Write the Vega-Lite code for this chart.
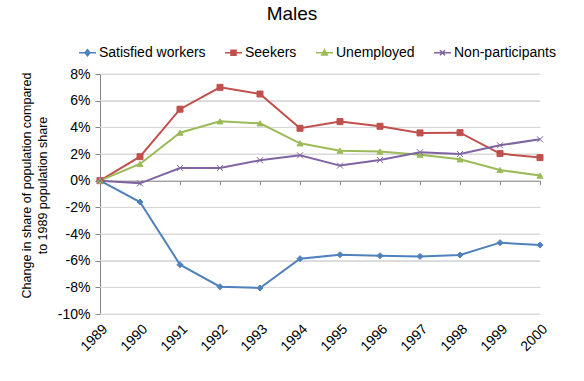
{
  "$schema": "https://vega.github.io/schema/vega-lite/v6.json",
  "width": 440,
  "height": 240,
  "autosize": "none",
  "padding": {"left": 100, "top": 74, "right": 44, "bottom": 67},
  "background": "white",
  "config": {
    "font": "Liberation Sans",
    "view": {"stroke": null},
    "axis": {"labelFont": "Liberation Sans", "labelColor": "#000000", "titleColor": "#000000", "titleFont": "Liberation Sans", "labelOverlap": false, "labelFlush": false, "labelBound": false},
    "axisX": {"grid": false, "domain": true, "ticks": true, "tickSize": 4, "tickColor": "#868686", "domainColor": "#868686", "labelAngle": -45, "labelFontSize": 14, "labelPadding": 137, "offset": -133.33},
    "axisY": {"grid": true, "gridColor": "#D9D9D9", "gridWidth": 1, "gridOpacity": 1, "domain": true, "ticks": true, "tickSize": 5, "tickColor": "#868686", "domainColor": "#868686", "labelFontSize": 14, "labelPadding": 5}
  },
  "title": {"text": "Males", "fontSize": 19, "fontWeight": "normal", "font": "Liberation Sans", "color": "#000000", "dx": -28, "offset": 19},
  "data": {
    "values": [
      {"year": 1989, "series": "Satisfied workers", "value": 0},
      {"year": 1990, "series": "Satisfied workers", "value": -1.6},
      {"year": 1991, "series": "Satisfied workers", "value": -6.3},
      {"year": 1992, "series": "Satisfied workers", "value": -7.95},
      {"year": 1993, "series": "Satisfied workers", "value": -8.05},
      {"year": 1994, "series": "Satisfied workers", "value": -5.85},
      {"year": 1995, "series": "Satisfied workers", "value": -5.55},
      {"year": 1996, "series": "Satisfied workers", "value": -5.63},
      {"year": 1997, "series": "Satisfied workers", "value": -5.68},
      {"year": 1998, "series": "Satisfied workers", "value": -5.58},
      {"year": 1999, "series": "Satisfied workers", "value": -4.65},
      {"year": 2000, "series": "Satisfied workers", "value": -4.83},
      {"year": 1989, "series": "Seekers", "value": 0},
      {"year": 1990, "series": "Seekers", "value": 1.8},
      {"year": 1991, "series": "Seekers", "value": 5.36},
      {"year": 1992, "series": "Seekers", "value": 7.0},
      {"year": 1993, "series": "Seekers", "value": 6.5},
      {"year": 1994, "series": "Seekers", "value": 3.93},
      {"year": 1995, "series": "Seekers", "value": 4.43},
      {"year": 1996, "series": "Seekers", "value": 4.08},
      {"year": 1997, "series": "Seekers", "value": 3.58},
      {"year": 1998, "series": "Seekers", "value": 3.6},
      {"year": 1999, "series": "Seekers", "value": 2.03},
      {"year": 2000, "series": "Seekers", "value": 1.73},
      {"year": 1989, "series": "Unemployed", "value": 0},
      {"year": 1990, "series": "Unemployed", "value": 1.25},
      {"year": 1991, "series": "Unemployed", "value": 3.6},
      {"year": 1992, "series": "Unemployed", "value": 4.45},
      {"year": 1993, "series": "Unemployed", "value": 4.3},
      {"year": 1994, "series": "Unemployed", "value": 2.8},
      {"year": 1995, "series": "Unemployed", "value": 2.25},
      {"year": 1996, "series": "Unemployed", "value": 2.18},
      {"year": 1997, "series": "Unemployed", "value": 1.95},
      {"year": 1998, "series": "Unemployed", "value": 1.6},
      {"year": 1999, "series": "Unemployed", "value": 0.8},
      {"year": 2000, "series": "Unemployed", "value": 0.38},
      {"year": 1989, "series": "Non-participants", "value": 0},
      {"year": 1990, "series": "Non-participants", "value": -0.2},
      {"year": 1991, "series": "Non-participants", "value": 0.95},
      {"year": 1992, "series": "Non-participants", "value": 0.95},
      {"year": 1993, "series": "Non-participants", "value": 1.53},
      {"year": 1994, "series": "Non-participants", "value": 1.9},
      {"year": 1995, "series": "Non-participants", "value": 1.13},
      {"year": 1996, "series": "Non-participants", "value": 1.55},
      {"year": 1997, "series": "Non-participants", "value": 2.13},
      {"year": 1998, "series": "Non-participants", "value": 2.0},
      {"year": 1999, "series": "Non-participants", "value": 2.65},
      {"year": 2000, "series": "Non-participants", "value": 3.1}
    ]
  },
  "layer": [
    {
      "data": {"values": [{"value": -10}, {"value": -8}, {"value": -6}, {"value": -4}, {"value": -2}, {"value": 2}, {"value": 4}, {"value": 6}, {"value": 8}]},
      "mark": {"type": "rule", "color": "#D9D9D9", "strokeWidth": 1},
      "encoding": {
        "y": {
          "field": "value", "type": "quantitative",
          "scale": {"domain": [-10, 8], "nice": false},
          "axis": {
            "values": [-10,-8,-6,-4,-2,0,2,4,6,8],
            "labelExpr": "datum.value + '%'",
            "title": ["Change in share of population compared", "to 1989 population share"],
            "titleFontSize": 12.5, "titleFontWeight": "normal", "titleLineHeight": 16,
            "titleX": -80, "titleY": 111, "titleBaseline": "top", "titleAngle": -90, "titleAlign": "center"
          }
        }
      }
    },
    {
      "mark": {"type": "line", "strokeWidth": 2},
      "encoding": {
        "x": {
          "field": "year", "type": "quantitative",
          "scale": {"domain": [1989, 2000], "nice": false, "zero": false},
          "axis": {
            "title": null, "values": [1989,1990,1991,1992,1993,1994,1995,1996,1997,1998,1999,2000],
            "labelExpr": "'' + datum.value"
          }
        },
        "y": {
          "field": "value", "type": "quantitative",
          "scale": {"domain": [-10, 8], "nice": false},
          "axis": {
            "values": [-10,-8,-6,-4,-2,0,2,4,6,8],
            "labelExpr": "datum.value + '%'",
            "title": ["Change in share of population compared", "to 1989 population share"],
            "titleFontSize": 12.5, "titleFontWeight": "normal", "titleLineHeight": 16,
            "titleX": -80, "titleY": 111, "titleBaseline": "top", "titleAngle": -90, "titleAlign": "center"
          }
        },
        "color": {
          "field": "series", "type": "nominal",
          "scale": {"domain": ["Satisfied workers", "Seekers", "Unemployed", "Non-participants"], "range": ["#4F81BD", "#C0504D", "#9BBB59", "#8064A2"]},
          "legend": null
        }
      }
    },
    {
      "mark": {"type": "point", "filled": true, "size": 36, "strokeWidth": 1, "opacity": 1},
      "encoding": {
        "x": {
          "field": "year", "type": "quantitative",
          "axis": {
            "title": null, "values": [1989,1990,1991,1992,1993,1994,1995,1996,1997,1998,1999,2000],
            "labelExpr": "'' + datum.value"
          }
        },
        "y": {
          "field": "value", "type": "quantitative",
          "axis": {
            "values": [-10,-8,-6,-4,-2,0,2,4,6,8],
            "labelExpr": "datum.value + '%'",
            "title": ["Change in share of population compared", "to 1989 population share"],
            "titleFontSize": 12.5, "titleFontWeight": "normal", "titleLineHeight": 16,
            "titleX": -80, "titleY": 111, "titleBaseline": "top", "titleAngle": -90, "titleAlign": "center"
          }
        },
        "color": {
          "field": "series", "type": "nominal",
          "scale": {"domain": ["Satisfied workers", "Seekers", "Unemployed", "Non-participants"], "range": ["#4F81BD", "#C0504D", "#9BBB59", "#8064A2"]},
          "legend": null
        },
        "shape": {
          "field": "series", "type": "nominal",
          "scale": {"domain": ["Satisfied workers", "Seekers", "Unemployed", "Non-participants"], "range": ["diamond", "square", "triangle-up", "M-1,-1L1,1M1,-1L-1,1"]},
          "legend": null
        },
        "stroke": {
          "field": "series", "type": "nominal",
          "scale": {"domain": ["Satisfied workers", "Seekers", "Unemployed", "Non-participants"], "range": ["#4F81BD", "#C0504D", "#9BBB59", "#8064A2"]},
          "legend": null
        }
      }
    },
    {
      "transform": [{"filter": "datum.value > 100"}],
      "mark": {"type": "point", "filled": true, "strokeWidth": 1.5, "opacity": 1},
      "encoding": {
        "color": {
          "field": "series", "type": "nominal",
          "scale": {"domain": ["Satisfied workers", "Seekers", "Unemployed", "Non-participants"], "range": ["#4F81BD", "#C0504D", "#9BBB59", "#8064A2"]},
          "legend": {
            "title": null, "orient": "none", "legendX": -22, "legendY": -31, "direction": "horizontal", "columns": 4,
            "labelFontSize": 14, "labelFont": "Liberation Sans", "labelColor": "#000000", "labelOffset": 2, "columnPadding": 16,
            "symbolSize": 289, "symbolStrokeWidth": 1.5, "symbolOpacity": 1
          }
        },
        "shape": {
          "field": "series", "type": "nominal",
          "scale": {"domain": ["Satisfied workers", "Seekers", "Unemployed", "Non-participants"], "range": ["M-1,0L1,0M0,-0.35L0.3,0L0,0.35L-0.3,0Z", "M-1,0L1,0M-0.3,-0.3L0.3,-0.3L0.3,0.3L-0.3,0.3Z", "M-1,0L1,0M0,-0.35L0.33,0.25L-0.33,0.25Z", "M-1,0L1,0M-0.3,-0.3L0.3,0.3M0.3,-0.3L-0.3,0.3"]},
          "legend": {
            "title": null, "orient": "none", "legendX": -22, "legendY": -31, "direction": "horizontal", "columns": 4,
            "labelFontSize": 14, "labelFont": "Liberation Sans", "labelColor": "#000000", "labelOffset": 2, "columnPadding": 16,
            "symbolSize": 289, "symbolStrokeWidth": 1.5, "symbolOpacity": 1
          }
        },
        "stroke": {
          "field": "series", "type": "nominal",
          "scale": {"domain": ["Satisfied workers", "Seekers", "Unemployed", "Non-participants"], "range": ["#4F81BD", "#C0504D", "#9BBB59", "#8064A2"]},
          "legend": {
            "title": null, "orient": "none", "legendX": -22, "legendY": -31, "direction": "horizontal", "columns": 4,
            "labelFontSize": 14, "labelFont": "Liberation Sans", "labelColor": "#000000", "labelOffset": 2, "columnPadding": 16,
            "symbolSize": 289, "symbolStrokeWidth": 1.5, "symbolOpacity": 1
          }
        }
      }
    }
  ],
  "resolve": {
    "scale": {"color": "independent", "shape": "independent", "stroke": "independent"}
  }
}
